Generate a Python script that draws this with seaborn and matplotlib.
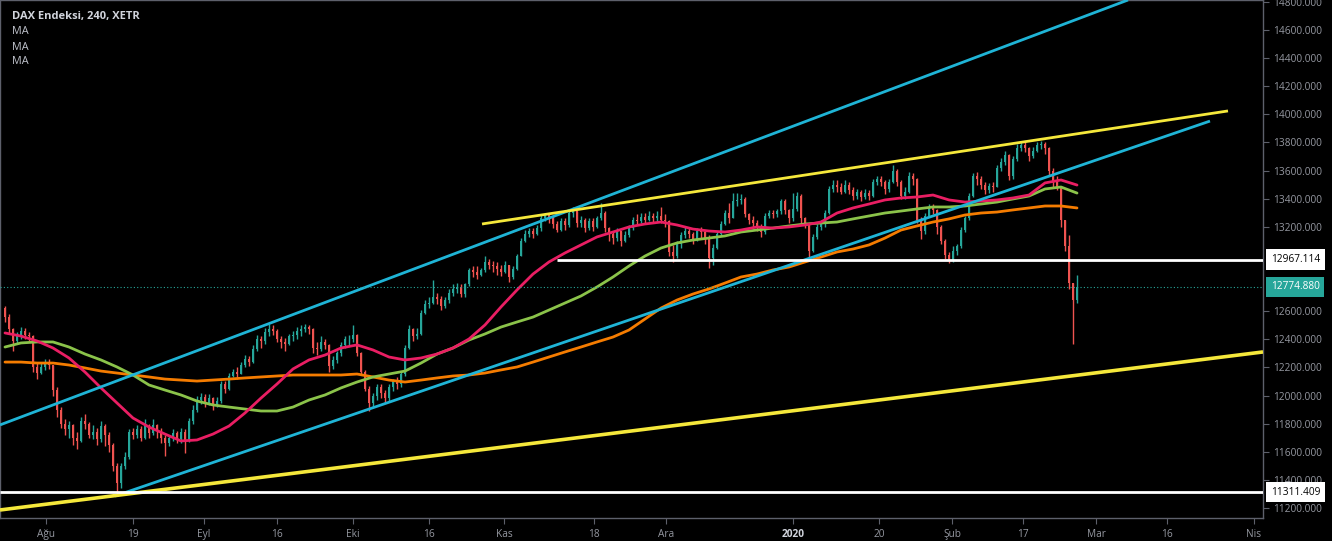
import matplotlib
matplotlib.use("Agg")
import matplotlib.pyplot as plt
import matplotlib.transforms as mtransforms
import numpy as np
import pandas as pd
import seaborn as sns

# ---------------- data ----------------
TITLE = "DAX Endeksi, 240, XETR"
INDICATORS = ["MA", "MA", "MA"]

FIRST_OPEN = 12620
CLOSE = [
    12560, 12470, 12390, 12420, 12460, 12430, 12420, 12200, 12160, 12200,
    12230, 12220, 12040, 11900, 11800, 11760, 11790, 11700, 11680, 11820,
    11800, 11720, 11740, 11690, 11780, 11720, 11650, 11500, 11380, 11500,
    11560, 11740, 11720, 11760, 11700, 11780, 11730, 11790, 11750, 11700,
    11660, 11700, 11730, 11690, 11740, 11680, 11820, 11900, 11970, 11990,
    11950, 11980, 11940, 11960, 12080, 12050, 12140, 12170, 12150, 12220,
    12260, 12240, 12330, 12400, 12390, 12450, 12470, 12460, 12400, 12380,
    12370, 12420, 12430, 12460, 12470, 12490, 12470, 12340, 12330, 12380,
    12360, 12210, 12250, 12300, 12360, 12400, 12400, 12430, 12300, 12170,
    12050, 11950, 12000, 12060, 12020, 11980, 12060, 12100, 12080, 12150,
    12340, 12470, 12420, 12440, 12590, 12650, 12660, 12700, 12690, 12640,
    12680, 12730, 12760, 12770, 12720, 12790, 12890, 12880, 12860, 12890,
    12950, 12930, 12920, 12900, 12880, 12930, 12840, 12900, 12990, 13100,
    13150, 13170, 13150, 13190, 13260, 13290, 13260, 13220, 13180, 13240,
    13210, 13300, 13310, 13230, 13250, 13190, 13240, 13200, 13260, 13300,
    13190, 13150, 13120, 13170, 13100, 13140, 13190, 13250, 13240, 13270,
    13250, 13280, 13260, 13280, 13250, 13240, 13020, 12990, 13080, 13140,
    13170, 13150, 13110, 13170, 13160, 13120, 12980, 13050, 13150, 13220,
    13300, 13260, 13380, 13390, 13400, 13290, 13250, 13230, 13200, 13160,
    13280, 13300, 13290, 13310, 13380, 13320, 13260, 13330, 13420, 13260,
    13220, 13030, 13130, 13200, 13230, 13300, 13470, 13500, 13480, 13450,
    13500, 13460, 13420, 13450, 13410, 13440, 13420, 13520, 13540, 13520,
    13470, 13520, 13600, 13520, 13420, 13450, 13560, 13540, 13250, 13170,
    13280, 13340, 13320, 13200, 13100, 13000, 12960, 13030, 13060, 13180,
    13260, 13420, 13560, 13540, 13500, 13460, 13490, 13480, 13620, 13660,
    13710, 13560, 13680, 13760, 13780, 13760, 13700, 13740, 13780, 13790,
    13760, 13600, 13520, 13480, 13250, 13060, 12800, 12680, 12775,
]
HIGH = [
    12640, 12580, 12480, 12450, 12490, 12480, 12450, 12430, 12230, 12240,
    12260, 12260, 12200, 12060, 11920, 11830, 11820, 11800, 11740, 11850,
    11870, 11810, 11790, 11770, 11820, 11800, 11740, 11660, 11520, 11520,
    11600, 11760, 11770, 11790, 11780, 11830, 11800, 11830, 11800, 11770,
    11720, 11720, 11760, 11750, 11770, 11760, 11840, 11930, 12000, 12020,
    12010, 12010, 11990, 11990, 12100, 12100, 12160, 12190, 12200, 12240,
    12290, 12280, 12360, 12430, 12420, 12480, 12510, 12500, 12470, 12420,
    12410, 12440, 12460, 12490, 12500, 12510, 12500, 12480, 12380, 12420,
    12400, 12370, 12280, 12320, 12380, 12420, 12430, 12500, 12440, 12310,
    12180, 12070, 12020, 12080, 12080, 12040, 12080, 12120, 12130, 12170,
    12360, 12500, 12480, 12480, 12610, 12680, 12700, 12820, 12730, 12710,
    12700, 12760, 12790, 12800, 12790, 12800, 12910, 12920, 12920, 12910,
    12990, 12970, 12960, 12950, 12930, 12960, 12930, 12920, 13010, 13120,
    13180, 13190, 13190, 13210, 13290, 13300, 13300, 13280, 13240, 13260,
    13260, 13320, 13340, 13310, 13280, 13260, 13260, 13260, 13280, 13370,
    13310, 13200, 13170, 13190, 13170, 13170, 13210, 13270, 13290, 13300,
    13300, 13310, 13300, 13310, 13340, 13290, 13250, 13070, 13100, 13160,
    13200, 13200, 13160, 13190, 13200, 13180, 13140, 13080, 13170, 13240,
    13320, 13370, 13440, 13440, 13430, 13410, 13300, 13280, 13250, 13220,
    13300, 13320, 13320, 13330, 13400, 13400, 13330, 13440, 13450, 13430,
    13270, 13230, 13150, 13220, 13250, 13320, 13490, 13530, 13530, 13510,
    13530, 13520, 13480, 13470, 13460, 13470, 13460, 13540, 13560, 13560,
    13530, 13540, 13640, 13610, 13530, 13480, 13590, 13580, 13550, 13270,
    13300, 13360, 13360, 13330, 13210, 13110, 13020, 13060, 13080, 13200,
    13280, 13440, 13580, 13590, 13560, 13520, 13510, 13520, 13640, 13690,
    13740, 13720, 13700, 13790, 13800, 13800, 13770, 13770, 13800, 13810,
    13800, 13770, 13620, 13560, 13480, 13240, 13140, 12800, 12860,
]
LOW = [
    12520, 12440, 12320, 12370, 12400, 12400, 12380, 12170, 12120, 12150,
    12180, 12190, 12000, 11850, 11770, 11720, 11700, 11650, 11620, 11670,
    11760, 11700, 11690, 11650, 11670, 11640, 11600, 11460, 11300, 11340,
    11480, 11550, 11690, 11700, 11680, 11690, 11700, 11720, 11700, 11660,
    11570, 11640, 11680, 11660, 11660, 11590, 11670, 11800, 11880, 11940,
    11920, 11930, 11900, 11920, 11950, 12020, 12040, 12130, 12120, 12150,
    12200, 12210, 12230, 12320, 12340, 12370, 12420, 12430, 12380, 12340,
    12320, 12360, 12390, 12400, 12420, 12450, 12440, 12300, 12290, 12320,
    12330, 12170, 12190, 12230, 12280, 12340, 12360, 12380, 12280, 12150,
    12030, 11890, 11920, 11970, 11980, 11950, 11960, 12030, 12050, 12060,
    12140, 12330, 12390, 12400, 12430, 12580, 12620, 12650, 12650, 12610,
    12620, 12660, 12710, 12730, 12700, 12700, 12780, 12840, 12830, 12850,
    12880, 12900, 12880, 12860, 12850, 12870, 12810, 12830, 12890, 12990,
    13090, 13130, 13120, 13140, 13170, 13240, 13230, 13190, 13160, 13170,
    13180, 13200, 13270, 13200, 13200, 13160, 13180, 13170, 13190, 13250,
    13160, 13100, 13080, 13100, 13060, 13090, 13130, 13180, 13210, 13230,
    13220, 13240, 13230, 13240, 13230, 13200, 12990, 12950, 12980, 13050,
    13120, 13120, 13080, 13100, 13120, 13080, 12910, 12930, 13040, 13140,
    13210, 13230, 13260, 13350, 13360, 13270, 13220, 13190, 13170, 13130,
    13150, 13260, 13260, 13270, 13290, 13290, 13230, 13240, 13310, 13230,
    13190, 12960, 13020, 13110, 13180, 13200, 13290, 13450, 13450, 13430,
    13440, 13430, 13390, 13400, 13380, 13400, 13390, 13410, 13500, 13490,
    13430, 13450, 13510, 13490, 13400, 13400, 13440, 13500, 13230, 13110,
    13150, 13270, 13290, 13150, 13080, 12970, 12940, 12950, 13000, 13050,
    13160, 13250, 13410, 13500, 13470, 13430, 13440, 13450, 13480, 13600,
    13640, 13530, 13540, 13670, 13740, 13730, 13670, 13690, 13730, 13750,
    13720, 13570, 13480, 13460, 13200, 13030, 12760, 12370, 12660,
]

# moving averages, one value every 4th bar
MA_EVERY = 4
MA_FAST = [
    12445, 12423, 12388, 12338, 12267, 12167, 12054, 11947, 11840, 11776,
    11726, 11677, 11684, 11726, 11783, 11876, 11982, 12082, 12189, 12253,
    12288, 12338, 12360, 12324, 12274, 12253, 12267, 12295, 12338, 12402,
    12502, 12630, 12751, 12864, 12950, 13014, 13071, 13128, 13163, 13199,
    13220, 13234, 13213, 13184, 13170, 13163, 13177, 13199, 13191, 13199,
    13213, 13234, 13298, 13334, 13362, 13391, 13405, 13412, 13426, 13391,
    13376, 13383, 13391, 13405, 13426, 13512, 13533, 13497,
]
MA_MID = [
    12345, 12374, 12381, 12381, 12345, 12295, 12253, 12203, 12146, 12075,
    12039, 12004, 11961, 11933, 11918, 11904, 11890, 11890, 11918, 11968,
    12004, 12054, 12096, 12132, 12153, 12174, 12231, 12295, 12338, 12395,
    12438, 12487, 12523, 12558, 12608, 12658, 12708, 12772, 12843, 12921,
    12992, 13049, 13085, 13106, 13120, 13135, 13163, 13177, 13191, 13206,
    13220, 13227, 13234, 13256, 13277, 13298, 13312, 13327, 13341, 13341,
    13348, 13362, 13376, 13398, 13419, 13469, 13483, 13440,
]
MA_SLOW = [
    12238, 12238, 12231, 12231, 12217, 12196, 12174, 12160, 12146, 12132,
    12117, 12110, 12103, 12110, 12117, 12125, 12132, 12139, 12146, 12146,
    12146, 12146, 12153, 12132, 12110, 12096, 12110, 12125, 12139, 12146,
    12160, 12182, 12203, 12238, 12274, 12310, 12345, 12381, 12416, 12466,
    12544, 12622, 12679, 12722, 12758, 12800, 12843, 12864, 12893, 12914,
    12950, 12985, 13021, 13042, 13071, 13120, 13177, 13206, 13234, 13256,
    13284, 13298, 13305, 13320, 13334, 13348, 13348, 13334,
]

# drawn objects: (bar, price) anchors
CHANNEL_UPPER = [(-1.25, 11791), (280.75, 14813)]
CHANNEL_LOWER = [(27.5, 11285), (301.25, 13952)]
RESISTANCE = [(119.25, 13220), (305.75, 14024)]
SUPPORT = [(-1.25, 11186), (314.5, 12310)]
LEVEL_HIGH = 12967.114
LEVEL_HIGH_START = 138
LEVEL_LOW = 11311.409
LAST_PRICE = 12774.880

X_LABELS = ["Ağu", "19", "Eyl", "16", "Eki", "16", "Kas", "18", "Ara",
            "2020", "20", "Şub", "17", "Mar", "16", "Nis"]
X_TICKS = [10.25, 32, 49.75, 68, 87, 106, 124.75, 147.25, 165.25,
           197, 218.5, 236.75, 254.5, 272.75, 290.5, 312.25]
# price-scale labels shown (13000 and 12800 are covered by the price tags)
Y_TICKS = [11200, 11400, 11600, 11800, 12000, 12200, 12400, 12600,
           13200, 13400, 13600, 13800, 14000, 14200, 14400, 14600, 14800]

# ---------------- style ----------------
UP = "#26a69a"
DOWN = "#ef5350"
PINK = "#e91e63"
GREEN = "#8bc34a"
ORANGE = "#f57c00"
CYAN = "#1fb4d6"
YELLOW = "#f5e83b"
GRID = "#5d606b"
TXT = "#9598a1"

sns.set_theme(style="dark", rc={"axes.facecolor": "black",
                                "figure.facecolor": "black",
                                "axes.grid": False})
plt.rcParams['font.family'] = ['Open Sans', 'DejaVu Sans']

W, H = 1332, 541
fig = plt.figure(figsize=(W / 100, H / 100), dpi=100, facecolor="black")
ax = fig.add_axes([0, 23 / H, 1263 / W, 518 / H])
ax.set_facecolor("black")
ax.grid(False)

n = len(CLOSE)
idx = np.arange(n)
closes = np.array(CLOSE, float)
opens = np.array([FIRST_OPEN] + CLOSE[:-1], float)
highs = np.maximum.reduce([np.array(HIGH, float), opens, closes])
lows = np.minimum.reduce([np.array(LOW, float), opens, closes])
colors = np.where(closes >= opens, UP, DOWN)

ax.vlines(idx, lows, highs, colors=colors, lw=1.0, zorder=2)
body = np.maximum(np.abs(closes - opens), 5)
ax.bar(idx, body, bottom=np.minimum(opens, closes), width=0.62,
       color=colors, linewidth=0, zorder=3)

ma_idx = np.arange(0, n, MA_EVERY)
df = pd.DataFrame({"bar": ma_idx, "fast": MA_FAST, "mid": MA_MID, "slow": MA_SLOW})
for col, c in [("slow", ORANGE), ("mid", GREEN), ("fast", PINK)]:
    sns.lineplot(data=df, x="bar", y=col, color=c, lw=2, ax=ax, zorder=4, legend=False)

for pts, c, lw in [(CHANNEL_UPPER, CYAN, 2), (CHANNEL_LOWER, CYAN, 2),
                   (RESISTANCE, YELLOW, 2), (SUPPORT, YELLOW, 2.6)]:
    ax.plot([p[0] for p in pts], [p[1] for p in pts], color=c, lw=lw,
            solid_capstyle="butt", zorder=5)

ax.hlines(LEVEL_HIGH, LEVEL_HIGH_START, 314.5, color="white", lw=2, zorder=5)
ax.hlines(LEVEL_LOW, -1.25, 314.5, color="white", lw=2, zorder=5)
ax.axhline(LAST_PRICE, color=UP, lw=0.8, ls=(0, (1, 2)), zorder=5)

ax.set_xlim(-1.25, 314.5)
ax.set_ylim(11129, 14813)

ax.set_xticks(X_TICKS)
ax.set_xticklabels(X_LABELS)
ax.set_yticks(Y_TICKS)
ax.set_yticklabels([f"{v:.3f}" for v in Y_TICKS])
ax.yaxis.tick_right()
ax.tick_params(axis="y", right=True, left=False, labelright=True, labelleft=False,
               length=4, width=0.8, color=GRID, labelcolor=TXT, labelsize=7.3, pad=3)
ax.tick_params(axis="x", bottom=True, length=4, width=0.8, color=GRID,
               labelcolor=TXT, labelsize=7.3, pad=4)
ax.set_xlabel("")
ax.set_ylabel("")
for lab in ax.get_xticklabels():
    if lab.get_text() == "2020":
        lab.set_fontweight("bold")
        lab.set_color("#d1d4dc")
for sp in ax.spines.values():
    sp.set_color(GRID)
    sp.set_linewidth(1)

trans = mtransforms.blended_transform_factory(ax.transAxes, ax.transData)
for price, fc, tc in [(LEVEL_HIGH, "white", "black"), (LAST_PRICE, UP, "white"),
                      (LEVEL_LOW, "white", "black")]:
    ax.text(1 + 8 / 1263, price, f"{price:.3f}", transform=trans, ha="left",
            va="center", fontsize=7.3, color=tc, clip_on=False, zorder=10,
            bbox=dict(boxstyle="square,pad=0.45", fc=fc, ec="none"))

fig.text(12 / W, 1 - 17 / H, TITLE, ha="left", va="center", fontsize=8,
         fontweight="bold", color="#d1d4dc")
for k, name in enumerate(INDICATORS):
    fig.text(12 / W, 1 - (32 + 15 * k) / H, name, ha="left", va="center",
             fontsize=7.8, color="#c0c3cc")

fig.savefig("out.png", dpi=100, facecolor="black")
